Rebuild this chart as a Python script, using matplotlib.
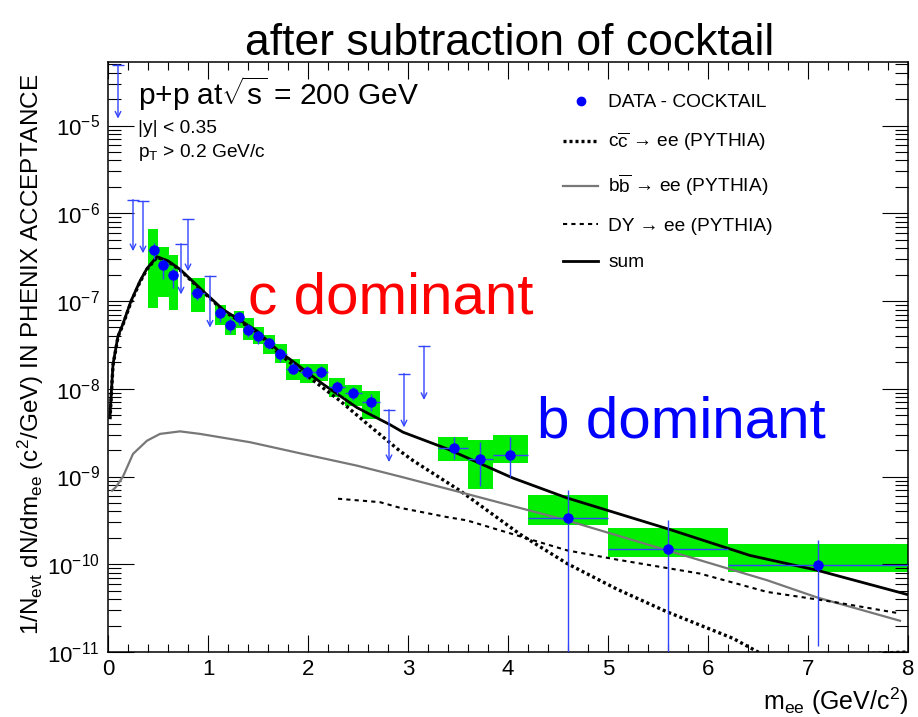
import numpy as np
import matplotlib
matplotlib.use("Agg")
import matplotlib.pyplot as plt
from matplotlib.lines import Line2D
from matplotlib import font_manager as fm

plt.rcParams['font.family'] = ['Liberation Sans', 'DejaVu Sans']
plt.rcParams['mathtext.fontset'] = 'custom'
plt.rcParams['mathtext.rm'] = 'Liberation Sans'
plt.rcParams['mathtext.it'] = 'Liberation Sans'
plt.rcParams['mathtext.bf'] = 'Liberation Sans:bold'

# data - cocktail points
m_pts = np.array([0.46, 0.55, 0.65, 0.89, 1.12, 1.22, 1.31, 1.40, 1.50, 1.61, 1.72, 1.85,
                  1.99, 2.13, 2.29, 2.45, 2.63, 3.46, 3.72, 4.02, 4.60, 5.60, 7.10])
m_lo = np.array([0.40, 0.50, 0.61, 0.83, 1.07, 1.17, 1.26, 1.35, 1.45, 1.55, 1.67, 1.78,
                 1.92, 2.06, 2.21, 2.37, 2.54, 3.30, 3.60, 3.85, 4.20, 5.00, 6.20])
m_hi = np.array([0.50, 0.61, 0.70, 0.97, 1.18, 1.28, 1.36, 1.46, 1.56, 1.67, 1.79, 1.92,
                 2.06, 2.20, 2.37, 2.54, 2.72, 3.60, 3.85, 4.20, 5.00, 6.20, 8.00])
yld = np.array([3.8e-7, 2.6e-7, 2.0e-7, 1.23e-7, 7.3e-8, 5.4e-8, 6.5e-8, 4.7e-8, 4.0e-8,
                3.3e-8, 2.5e-8, 1.7e-8, 1.55e-8, 1.55e-8, 1.04e-8, 8.9e-9, 7.1e-9,
                2.1e-9, 1.6e-9, 1.77e-9, 3.4e-10, 1.48e-10, 9.8e-11])
stat_lo = np.array([3.0e-7, 1.8e-7, 1.42e-7, 1.04e-7, 5.7e-8, 4.3e-8, 5.3e-8, 3.9e-8, 3.22e-8,
                    2.82e-8, 2.04e-8, 1.47e-8, 1.29e-8, 1.31e-8, 8.7e-9, 7.45e-9, 5.6e-9,
                    1.6e-9, 7.8e-10, 9.8e-10, 1e-13, 1e-13, 1.17e-11])
stat_hi = np.array([4.6e-7, 3.05e-7, 2.36e-7, 1.42e-7, 8.4e-8, 6.36e-8, 7.5e-8, 5.43e-8, 4.56e-8,
                    3.83e-8, 2.9e-8, 2.0e-8, 1.82e-8, 1.82e-8, 1.23e-8, 1.04e-8, 8.7e-9,
                    2.85e-9, 2.46e-9, 2.85e-9, 7.1e-10, 3.16e-10, 1.88e-10])
sys_lo = np.array([8.4e-8, 1.12e-7, 7.9e-8, 7.5e-8, 5.3e-8, 4.1e-8, 4.98e-8, 3.57e-8, 3.22e-8,
                   2.52e-8, 1.99e-8, 1.26e-8, 1.15e-8, 1.23e-8, 8.1e-9, 6.41e-9, 4.53e-9,
                   1.5e-9, 7.2e-10, 1.41e-9, 2.77e-10, 1.21e-10, 8.18e-11])
sys_hi = np.array([6.6e-7, 4.1e-7, 3.33e-7, 1.81e-7, 9.0e-8, 7.06e-8, 7.8e-8, 6.36e-8, 5.07e-8,
                   4.1e-8, 3.22e-8, 2.21e-8, 1.94e-8, 1.94e-8, 1.34e-8, 1.11e-8, 9.5e-9,
                   2.85e-9, 2.6e-9, 3.0e-9, 6.08e-10, 2.59e-10, 1.72e-10])

# upper limits
ul_m = [0.10, 0.25, 0.35, 0.73, 0.80, 1.02, 2.81, 2.96, 3.16]
ul_top = [4.9e-5, 1.43e-6, 1.37e-6, 4.5e-7, 8.5e-7, 1.92e-7, 5.77e-9, 1.49e-8, 3.05e-8]
ul_head = [1.2e-5, 3.7e-7, 3.5e-7, 1.19e-7, 2.19e-7, 4.98e-8, 1.46e-9, 3.63e-9, 7.45e-9]

# PYTHIA curves
sum_m = [0.02, 0.05, 0.10, 0.15, 0.23, 0.32, 0.39, 0.49, 0.60, 0.72, 0.92, 1.15, 1.49, 1.72,
         1.82, 2.15, 2.49, 2.82, 2.95, 3.39, 4.05, 4.59, 5.59, 6.42, 7.09, 8.0]
sum_y = [5e-9, 1.9e-8, 4.0e-8, 5.5e-8, 1.0e-7, 1.69e-7, 2.35e-7, 3.2e-7, 2.87e-7, 2.3e-7,
         1.4e-7, 8.0e-8, 4.56e-8, 2.6e-8, 2.17e-8, 1.13e-8, 6.1e-9, 3.9e-9, 3.2e-9, 2.07e-9,
         9.6e-10, 5.7e-10, 2.55e-10, 1.26e-10, 8.55e-11, 4.5e-11]
cc_m = [0.02, 0.05, 0.10, 0.15, 0.23, 0.32, 0.39, 0.49, 0.60, 0.72, 0.92, 1.15, 1.49, 1.72,
        2.05, 2.32, 2.59, 2.92, 3.05, 3.52, 4.12, 4.59, 5.09, 5.59, 6.25, 6.5, 6.9, 7.5, 8.0]
cc_y = [4.5e-9, 1.85e-8, 3.9e-8, 5.4e-8, 9.7e-8, 1.65e-7, 2.3e-7, 3.15e-7, 2.82e-7, 2.26e-7,
        1.37e-7, 7.8e-8, 4.4e-8, 2.45e-8, 1.25e-8, 7.3e-9, 4.0e-9, 1.95e-9, 1.52e-9, 6.9e-10,
        2.2e-10, 1.02e-10, 5.2e-11, 2.87e-11, 1.43e-11, 1.0e-11, 7e-12, 9.5e-12, 1.0e-11]
bb_m = [0.04, 0.08, 0.15, 0.25, 0.39, 0.52, 0.72, 0.92, 1.42, 1.92, 2.49, 2.92, 3.52, 4.59,
        5.59, 6.59, 7.09, 7.92]
bb_y = [6.9e-10, 7.6e-10, 1.0e-9, 1.81e-9, 2.56e-9, 3.06e-9, 3.27e-9, 3.06e-9, 2.46e-9,
        1.84e-9, 1.33e-9, 1.0e-9, 6.64e-10, 3.16e-10, 1.44e-10, 6.58e-11, 4.19e-11, 2.27e-11]
dy_m = [2.3, 2.72, 2.92, 3.39, 3.59, 4.25, 4.59, 5.09, 5.92, 6.59, 7.25, 7.92]
dy_y = [5.58e-10, 5.1e-10, 4.4e-10, 3.45e-10, 3.16e-10, 1.88e-10, 1.44e-10, 1.13e-10,
        7.83e-11, 4.84e-11, 3.73e-11, 2.75e-11]

W, H = 918, 717
fig = plt.figure(figsize=(W / 100, H / 100), dpi=100)
ax = fig.add_axes([108 / W, 1 - 652 / H, 800 / W, 590 / H])
ax.set_yscale('log')
ax.set_xlim(0, 8)
ax.set_ylim(1e-11, 5.3e-5)

green = '#00ee00'
ax.bar(m_lo, sys_hi - sys_lo, bottom=sys_lo, width=m_hi - m_lo, align='edge',
       color=green, edgecolor='none', zorder=1)

l_cc, = ax.plot(cc_m, cc_y, color='black', lw=2.4, ls=(0, (0.9, 0.9)), zorder=2)
l_bb, = ax.plot(bb_m, bb_y, color='#777777', lw=1.6, zorder=2)
l_dy, = ax.plot(dy_m, dy_y, color='black', lw=1.5, ls=(0, (2, 2)), zorder=2)
l_sum, = ax.plot(sum_m, sum_y, color='black', lw=2.0, zorder=2)

ax.errorbar(m_pts, yld, xerr=[m_pts - m_lo, m_hi - m_pts], yerr=[yld - stat_lo, stat_hi - yld],
            fmt='o', color='blue', ecolor='#3344ff', ms=6.5, elinewidth=1, capsize=0, zorder=4)

for x, top, head in zip(ul_m, ul_top, ul_head):
    ax.annotate('', xy=(x, head), xytext=(x, top),
                arrowprops=dict(arrowstyle='->', color='#3344ff', lw=1, shrinkA=0, shrinkB=0,
                                mutation_scale=10), zorder=4)
ax.plot(ul_m, ul_top, ls='none', marker='_', ms=8, mew=1, color='#3344ff', zorder=4)

# ROOT-like frame and ticks
for s in ax.spines.values():
    s.set_linewidth(1.1)
ax.set_xticks(range(9))
ax.set_xticks(np.arange(0, 8.01, 0.2), minor=True)
ax.tick_params(axis='both', which='both', direction='in', top=True, right=True, width=0.8,
               labelsize=16)
ax.tick_params(axis='x', which='major', length=12, pad=5)
ax.tick_params(axis='x', which='minor', length=6)
ax.tick_params(axis='y', which='major', length=19, pad=6)
ax.tick_params(axis='y', which='minor', length=9.5)
ax.yaxis.set_major_locator(matplotlib.ticker.LogLocator(base=10, numticks=12))
ax.yaxis.set_minor_locator(matplotlib.ticker.LogLocator(base=10, subs=np.arange(2, 10), numticks=12))
ax.yaxis.set_minor_formatter(matplotlib.ticker.NullFormatter())

ax.set_ylabel(r'1/N$_{\rm evt}$ dN/dm$_{\rm ee}$ (c$^{2}$/GeV) IN PHENIX ACCEPTANCE', fontsize=17.5)
ax.yaxis.set_label_coords(-0.078, 0.505)
fig.text(909 / W, 1 - 710 / H, r'm$_{\rm ee}$ (GeV/c$^{2}$)', fontsize=18, ha='right', va='baseline')

# labels inside the frame
fig.text(138 / W, 1 - 105 / H, r'p+p at$\sqrt{\rm s}$ = 200 GeV', fontsize=21.5, va='baseline')
fig.text(138 / W, 1 - 133 / H, '|y| < 0.35', fontsize=13.8, va='baseline')
fig.text(138 / W, 1 - 157 / H, r'p$_{\rm T}$ > 0.2 GeV/c', fontsize=13.8, va='baseline')

fig.text(248 / W, 1 - 313 / H, 'c dominant', fontsize=42, color='red', va='baseline')
fig.text(537 / W, 1 - 437 / H, 'b dominant', fontsize=42, color='blue', va='baseline')

names = {f.name for f in fm.fontManager.ttflist}
if 'Liberation Sans Narrow' in names:
    fig.text(510 / W, 1 - 55 / H, 'after subtraction of cocktail', fontsize=38,
             family='Liberation Sans Narrow', ha='center', va='baseline')
else:
    fig.text(510 / W, 1 - 55 / H, 'after subtraction of cocktail', fontsize=32,
             ha='center', va='baseline')

dot = Line2D([], [], ls='none', marker='o', color='blue', ms=6)
ax.legend([dot, l_cc, l_bb, l_dy, l_sum],
          ['DATA - COCKTAIL', r'c$\overline{\rm c}$ → ee (PYTHIA)',
           r'b$\overline{\rm b}$ → ee (PYTHIA)', 'DY → ee (PYTHIA)', 'sum'],
          loc='upper left', bbox_to_anchor=(563 / W, 1 - 94 / H), bbox_transform=fig.transFigure,
          frameon=False, fontsize=13.8, handlelength=1.85, handletextpad=0.5, borderpad=0,
          labelspacing=1.0, borderaxespad=0)

fig.savefig('out.png', dpi=100)
